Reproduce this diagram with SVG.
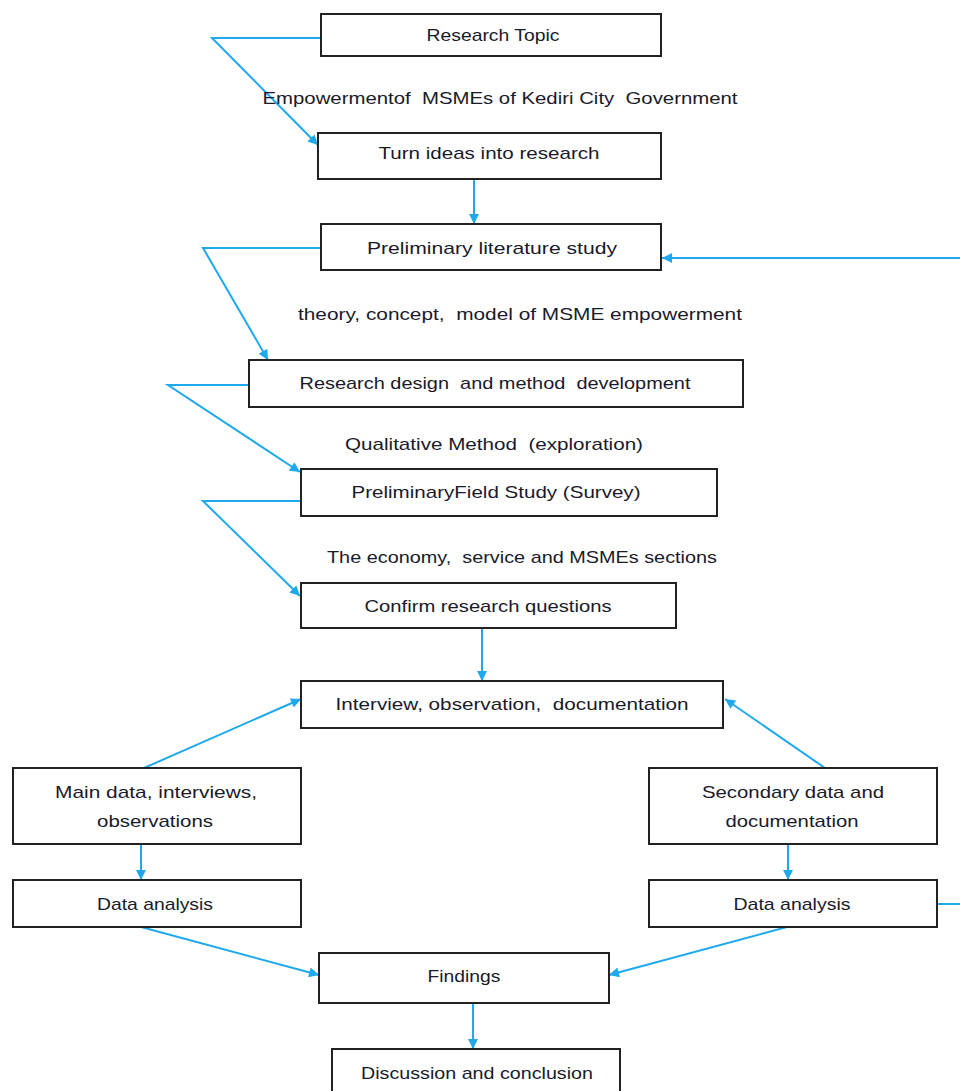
<svg xmlns="http://www.w3.org/2000/svg" width="960" height="1091" viewBox="0 0 960 1091">
<defs>
<marker id="ah" viewBox="0 0 10 10" refX="10" refY="5" markerWidth="11" markerHeight="10" markerUnits="userSpaceOnUse" orient="auto">
<path d="M0,0 L10,5 L0,10 z" fill="#1ea9ee"/>
</marker>
<style>
.box{fill:#fff;stroke:#222;stroke-width:2}
.t{font-family:"Liberation Sans",Arial,sans-serif;font-size:17px;fill:#1a1a2a;text-anchor:middle}
.lbl{font-family:"Liberation Sans",Arial,sans-serif;font-size:17px;fill:#1a1a2a;text-anchor:middle}
.c{fill:none;stroke:#1ea9ee;stroke-width:2}
</style>
</defs>
<rect width="960" height="1091" fill="#fff"/>
<g id="connectors">
<path class="c" d="M321,38 H212 L318,145" marker-end="url(#ah)"/>
<path class="c" d="M474,179 V224" marker-end="url(#ah)"/>
<path class="c" d="M321,248 H203 L268,360" marker-end="url(#ah)"/>
<path class="c" d="M249,385 H168 L300,472" marker-end="url(#ah)"/>
<path class="c" d="M301,501 H203 L300,596" marker-end="url(#ah)"/>
<path class="c" d="M482,628 V681" marker-end="url(#ah)"/>
<path class="c" d="M144,768 L301,699" marker-end="url(#ah)"/>
<path class="c" d="M825,768 L725,699" marker-end="url(#ah)"/>
<path class="c" d="M141,844 V880" marker-end="url(#ah)"/>
<path class="c" d="M788,844 V880" marker-end="url(#ah)"/>
<path class="c" d="M141,927 L319,975" marker-end="url(#ah)"/>
<path class="c" d="M787,927 L609,975" marker-end="url(#ah)"/>
<path class="c" d="M473,1003 V1049" marker-end="url(#ah)"/>
<path class="c" d="M937,904 H975 V258 H662" marker-end="url(#ah)"/>
</g>
<g id="labels">
<text class="lbl" x="500" y="104" textLength="475" lengthAdjust="spacingAndGlyphs" xml:space="preserve">Empowermentof  MSMEs of Kediri City  Government</text>
<text class="lbl" x="520" y="320" textLength="444" lengthAdjust="spacingAndGlyphs" xml:space="preserve">theory, concept,  model of MSME empowerment</text>
<text class="lbl" x="494" y="450" textLength="298" lengthAdjust="spacingAndGlyphs" xml:space="preserve">Qualitative Method  (exploration)</text>
<text class="lbl" x="522" y="563" textLength="390" lengthAdjust="spacingAndGlyphs" xml:space="preserve">The economy,  service and MSMEs sections</text>
</g>
<g id="n1"><rect class="box" x="321" y="14" width="340" height="42"/><text class="t" x="493" y="41" textLength="133" lengthAdjust="spacingAndGlyphs">Research Topic</text></g>
<g id="n2"><rect class="box" x="318" y="133" width="343" height="46"/><text class="t" x="489" y="159" textLength="221" lengthAdjust="spacingAndGlyphs">Turn ideas into research</text></g>
<g id="n3"><rect class="box" x="321" y="224" width="340" height="46"/><text class="t" x="492" y="254" textLength="250" lengthAdjust="spacingAndGlyphs">Preliminary literature study</text></g>
<g id="n4"><rect class="box" x="249" y="360" width="494" height="47"/><text class="t" x="495" y="389" textLength="391" lengthAdjust="spacingAndGlyphs" xml:space="preserve">Research design  and method  development</text></g>
<g id="n5"><rect class="box" x="301" y="469" width="416" height="47"/><text class="t" x="496" y="498" textLength="289" lengthAdjust="spacingAndGlyphs">PreliminaryField Study (Survey)</text></g>
<g id="n6"><rect class="box" x="301" y="583" width="375" height="45"/><text class="t" x="488" y="612" textLength="247" lengthAdjust="spacingAndGlyphs">Confirm research questions</text></g>
<g id="n7"><rect class="box" x="301" y="681" width="422" height="47"/><text class="t" x="512" y="710" textLength="353" lengthAdjust="spacingAndGlyphs" xml:space="preserve">Interview, observation,  documentation</text></g>
<g id="n8"><rect class="box" x="13" y="768" width="288" height="76"/><text class="t" x="156" y="798" textLength="202" lengthAdjust="spacingAndGlyphs">Main data, interviews,</text><text class="t" x="155" y="827" textLength="116" lengthAdjust="spacingAndGlyphs">observations</text></g>
<g id="n9"><rect class="box" x="649" y="768" width="288" height="76"/><text class="t" x="793" y="798" textLength="182" lengthAdjust="spacingAndGlyphs">Secondary data and</text><text class="t" x="792" y="827" textLength="133" lengthAdjust="spacingAndGlyphs">documentation</text></g>
<g id="n10"><rect class="box" x="13" y="880" width="288" height="47"/><text class="t" x="155" y="910" textLength="116" lengthAdjust="spacingAndGlyphs">Data analysis</text></g>
<g id="n11"><rect class="box" x="649" y="880" width="288" height="47"/><text class="t" x="792" y="910" textLength="117" lengthAdjust="spacingAndGlyphs">Data analysis</text></g>
<g id="n12"><rect class="box" x="319" y="953" width="290" height="50"/><text class="t" x="464" y="982" textLength="73" lengthAdjust="spacingAndGlyphs">Findings</text></g>
<g id="n13"><rect class="box" x="332" y="1049" width="288" height="60"/><text class="t" x="477" y="1079" textLength="232" lengthAdjust="spacingAndGlyphs">Discussion and conclusion</text></g>
</svg>
